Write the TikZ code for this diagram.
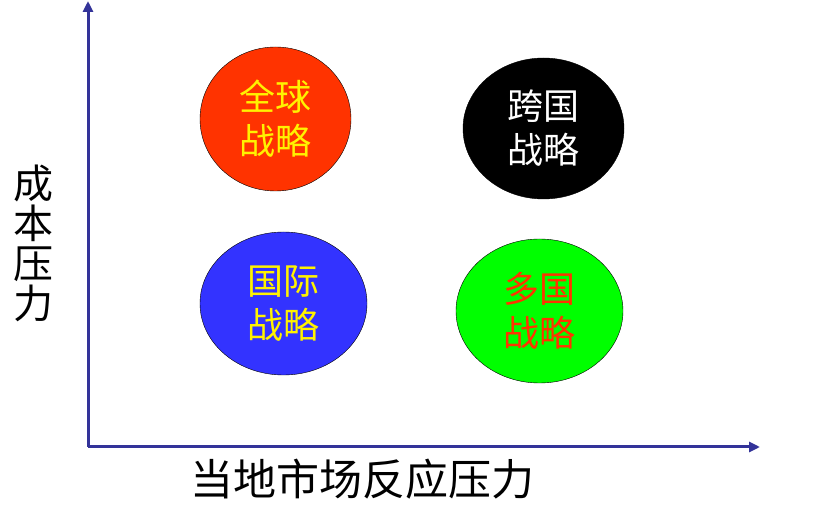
\documentclass[tikz,border=0pt]{standalone}
\usepackage{fontspec}
\setmainfont{Noto Sans CJK SC}
\usepackage{tikz}
\usetikzlibrary{positioning,arrows.meta,shapes.geometric}

\definecolor{axisblue}{RGB}{51,51,153}
\definecolor{globalred}{RGB}{255,51,0}
\definecolor{intlblue}{RGB}{51,51,255}
\definecolor{multigreen}{RGB}{0,255,0}

\begin{document}
\begin{tikzpicture}[x=1pt,y=-1pt,
      quad/.style={draw,ellipse,thin,inner sep=0pt,align=center,
        font=\fontsize{36}{44}\selectfont},
      axis/.style={draw=axisblue,line width=3pt,-{Triangle[length=11pt,width=10pt]}}]
      \useasboundingbox (0,0) rectangle (833,510);
      \coordinate (origin) at (88,447);
      \coordinate (ytop)   at (88,1);
      \coordinate (xend)   at (760,447);
      \draw[axis] (origin) -- (ytop);
      \draw[axis] (origin) -- (xend);
      \node (global) [quad,fill=globalred,text=yellow,minimum width=151pt,minimum height=144pt] at (275.5,119) {全球\\战略};
      \node (trans)  [quad,fill=black,text=white,minimum width=161pt,minimum height=141pt] at (543.5,128.5) {跨国\\战略};
      \node (intl)   [quad,fill=intlblue,text=yellow,minimum width=167pt,minimum height=143pt] at (283.5,303.5) {国际\\战略};
      \node (multi)  [quad,fill=multigreen,text=globalred,minimum width=167pt,minimum height=144pt] at (539.5,311) {多国\\战略};
      \node (cost)   [align=center,font=\fontsize{40}{40}\selectfont] at (33,243) {成\\本\\压\\力};
      \node (local)  [font=\fontsize{43}{43}\selectfont] at (362,479) {当地市场反应压力};
    \end{tikzpicture}
\end{document}
